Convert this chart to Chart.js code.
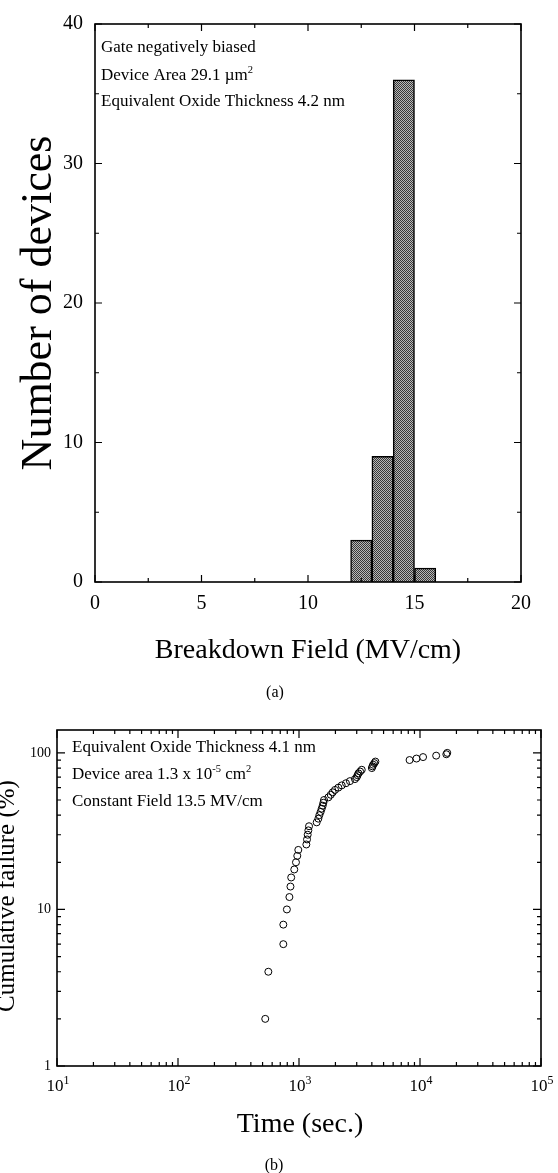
<!DOCTYPE html>
<html>
<head>
  <title>Oxide breakdown</title>
  <script src="https://cdn.jsdelivr.net/npm/chart.js"></script>
  <style>
    body { margin: 0; background: #fff; }
    .page { position: relative; width: 558px; height: 1173px; overflow: hidden; }
    #histBox { position: absolute; left: 0; top: 0; width: 558px; height: 700px; }
    #tddbBox { position: absolute; left: 0; top: 700px; width: 558px; height: 473px; }
  </style>
</head>
<body>
<div class="page">
  <div id="histBox"><canvas id="hist"></canvas></div>
  <div id="tddbBox"><canvas id="tddb"></canvas></div>
</div>
<script>
// (a) breakdown field histogram
const binStarts = [12, 13, 14, 15];      // MV/cm, bin left edges
const binWidth = 1;
const deviceCounts = [3, 9, 36, 1];
const fieldTicks = [0, 5, 10, 15, 20];
const countTicks = [0, 10, 20, 30, 40];

// (b) time to breakdown, cumulative failure
const failTimes = [526, 558, 742, 742, 794, 833, 850, 862, 914, 944,
                   968, 987, 1150, 1165, 1180, 1195, 1210, 1400, 1445, 1473,
                   1510, 1540, 1570, 1590, 1610, 1750, 1830, 1900, 1985, 2115,
                   2255, 2445, 2635, 2900, 3000, 3050, 3100, 3200, 3300, 4000,
                   4050, 4100, 4200, 4280, 8200, 9350, 10600, 13600, 16500, 16800];
const failPercent = [2, 4, 6, 8, 10, 12, 14, 16, 18, 20,
                     22, 24, 26, 28, 30, 32, 34, 36, 38, 40,
                     42, 44, 46, 48, 50, 52, 54, 56, 58, 60,
                     62, 64, 66, 68, 70, 72, 74, 76, 78, 80,
                     82, 84, 86, 88, 90, 92, 94, 96, 98, 100];
const timeTicks = [10, 100, 1000, 10000, 100000];
const percentTicks = [1, 10, 100];

const SERIF = "'Liberation Serif', 'DejaVu Serif', serif";
Chart.defaults.font.family = SERIF;
Chart.defaults.color = '#000';

// draws text pieces, some raised as superscripts; returns total width
function richText(ctx, parts, x, y, size, supScale = 0.62, measureOnly = false) {
  let cx = x;
  parts.forEach(([txt, sup]) => {
    const s = sup ? size * supScale : size;
    ctx.font = s + 'px ' + SERIF;
    if (!measureOnly) ctx.fillText(txt, cx, sup ? y - size * 0.42 : y);
    cx += ctx.measureText(txt).width;
  });
  return cx - x;
}

// box frame with inward ticks on all four sides
function drawFrame(chart, xMarks, yMarks) {
  const { ctx, chartArea: a, scales } = chart;
  ctx.save();
  ctx.strokeStyle = '#000';
  ctx.lineWidth = 1.2;
  ctx.beginPath();
  xMarks.forEach(([v, len]) => {
    const px = scales.x.getPixelForValue(v);
    ctx.moveTo(px, a.bottom); ctx.lineTo(px, a.bottom - len);
    ctx.moveTo(px, a.top); ctx.lineTo(px, a.top + len);
  });
  yMarks.forEach(([v, len]) => {
    const py = scales.y.getPixelForValue(v);
    ctx.moveTo(a.left, py); ctx.lineTo(a.left + len, py);
    ctx.moveTo(a.right, py); ctx.lineTo(a.right - len, py);
  });
  ctx.stroke();
  ctx.lineWidth = 1.6;
  ctx.strokeRect(a.left, a.top, a.right - a.left, a.bottom - a.top);
  ctx.restore();
}

// ---------- (a) ----------
const histCtx = document.getElementById('hist').getContext('2d');
const dots = document.createElement('canvas');
dots.width = 2; dots.height = 2;
const dg = dots.getContext('2d');
dg.fillStyle = '#b8b8b8'; dg.fillRect(0, 0, 2, 2);
dg.fillStyle = '#383838'; dg.fillRect(0, 0, 1, 1); dg.fillRect(1, 1, 1, 1);
const dotFill = histCtx.createPattern(dots, 'repeat');

const histMarks = {
  id: 'histMarks',
  afterDatasetsDraw(chart) {
    const xm = [], ym = [];
    for (let v = 0; v <= 20; v += 2.5) xm.push([v, v % 5 === 0 ? 7 : 4]);
    for (let v = 0; v <= 40; v += 5) ym.push([v, v % 10 === 0 ? 7 : 4]);
    drawFrame(chart, xm, ym);
  },
  afterDraw(chart) {
    const { ctx, chartArea: a } = chart;
    ctx.save();
    ctx.fillStyle = '#000';
    ctx.textAlign = 'left';
    ctx.textBaseline = 'alphabetic';
    richText(ctx, [['Gate negatively biased']], 101, 52, 17);
    richText(ctx, [['Device Area 29.1 \u00b5m'], ['2', true]], 101, 80, 17);
    richText(ctx, [['Equivalent Oxide Thickness 4.2 nm']], 101, 106, 17);

    ctx.textAlign = 'center';
    ctx.font = '28px ' + SERIF;
    ctx.fillText('Breakdown Field (MV/cm)', (a.left + a.right) / 2, 658);
    ctx.font = '16px ' + SERIF;
    ctx.fillText('(a)', 275, 697);

    ctx.translate(51, (a.top + a.bottom) / 2);
    ctx.rotate(-Math.PI / 2);
    ctx.font = '44px ' + SERIF;
    ctx.fillText('Number of devices', 0, 0);
    ctx.restore();
  }
};

new Chart(histCtx, {
  type: 'bar',
  data: {
    datasets: [{
      data: binStarts.map((b, i) => ({ x: b + binWidth / 2, y: deviceCounts[i] })),
      backgroundColor: dotFill,
      borderColor: '#000',
      borderWidth: 1.5,
      barPercentage: 1,
      categoryPercentage: 1
    }]
  },
  options: {
    responsive: true,
    maintainAspectRatio: false,
    animation: false,
    layout: { padding: { top: 17, right: 37, left: 0, bottom: 0 } },
    plugins: { legend: { display: false }, tooltip: { enabled: false } },
    scales: {
      x: {
        type: 'linear', min: 0, max: 20, offset: false,
        grid: { display: false, drawTicks: false },
        border: { display: false },
        afterBuildTicks: s => { s.ticks = fieldTicks.map(v => ({ value: v })); },
        afterFit: s => { s.height = 118; },
        ticks: { padding: 10, font: { size: 20 }, maxRotation: 0, autoSkip: false }
      },
      y: {
        min: 0, max: 40,
        grid: { display: false, drawTicks: false },
        border: { display: false },
        afterBuildTicks: s => { s.ticks = countTicks.map(v => ({ value: v })); },
        afterFit: s => { s.width = 95; },
        ticks: { padding: 12, font: { size: 20 } }
      }
    }
  },
  plugins: [histMarks]
});

// ---------- (b) ----------
const tddbMarks = {
  id: 'tddbMarks',
  afterDatasetsDraw(chart) {
    const xm = [], ym = [];
    timeTicks.forEach(v => xm.push([v, 8]));
    [10, 100, 1000, 10000].forEach(d => { for (let m = 2; m <= 9; m++) xm.push([m * d, 4]); });
    percentTicks.forEach(v => ym.push([v, 8]));
    [1, 10, 100].forEach(d => { for (let m = 2; m <= 9; m++) if (m * d <= 140) ym.push([m * d, 4]); });
    drawFrame(chart, xm, ym);
  },
  afterDraw(chart) {
    const { ctx, chartArea: a, scales } = chart;
    ctx.save();
    ctx.fillStyle = '#000';
    ctx.textAlign = 'left';
    ctx.textBaseline = 'alphabetic';

    // decade labels 10^n under the time axis
    timeTicks.forEach(v => {
      const parts = [['10'], [String(Math.round(Math.log10(v))), true]];
      const w = richText(ctx, parts, 0, 0, 17, 0.7, true);
      richText(ctx, parts, scales.x.getPixelForValue(v) - w / 2 + 1, a.bottom + 25, 17, 0.7);
    });

    richText(ctx, [['Equivalent Oxide Thickness 4.1 nm']], 72, 52, 17);
    richText(ctx, [['Device area 1.3 x 10'], ['-5', true], [' cm'], ['2', true]], 72, 79, 17);
    richText(ctx, [['Constant Field 13.5 MV/cm']], 72, 106, 17);

    ctx.textAlign = 'center';
    ctx.font = '28px ' + SERIF;
    ctx.fillText('Time (sec.)', 300, 432);
    ctx.font = '16px ' + SERIF;
    ctx.fillText('(b)', 274, 470);

    ctx.translate(14, 196);
    ctx.rotate(-Math.PI / 2);
    ctx.font = '25px ' + SERIF;
    ctx.fillText('Cumulative failure (%)', 0, 0);
    ctx.restore();
  }
};

new Chart(document.getElementById('tddb'), {
  type: 'scatter',
  data: {
    datasets: [{
      data: failTimes.map((t, i) => ({ x: t, y: failPercent[i] })),
      pointRadius: 3.5,
      pointBorderWidth: 1,
      pointBorderColor: '#000',
      pointBackgroundColor: 'rgba(0,0,0,0)',
      showLine: false
    }]
  },
  options: {
    responsive: true,
    maintainAspectRatio: false,
    animation: false,
    layout: { padding: { top: 30, right: 17, left: 0, bottom: 0 } },
    plugins: { legend: { display: false }, tooltip: { enabled: false } },
    scales: {
      x: {
        type: 'logarithmic', min: 10, max: 100000,
        grid: { display: false, drawTicks: false },
        border: { display: false },
        afterBuildTicks: s => { s.ticks = timeTicks.map(v => ({ value: v })); },
        afterFit: s => { s.height = 107; },
        ticks: { display: false }
      },
      y: {
        type: 'logarithmic', min: 1, max: 140,
        grid: { display: false, drawTicks: false },
        border: { display: false },
        afterBuildTicks: s => { s.ticks = percentTicks.map(v => ({ value: v })); },
        afterFit: s => { s.width = 57; },
        ticks: { padding: 6, font: { size: 14 }, callback: v => String(v) }
      }
    }
  },
  plugins: [tddbMarks]
});
</script>
</body>
</html>
